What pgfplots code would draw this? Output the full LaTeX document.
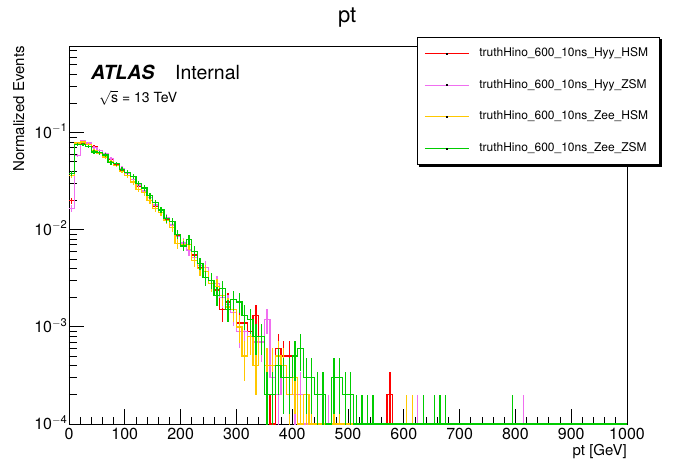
\documentclass[border=0pt]{standalone}
\usepackage{pgfplots}
\usepackage{pgfplotstable}
\pgfplotsset{compat=1.18}
\usepackage{fontspec}
\setmainfont{TeX Gyre Heros}
\usetikzlibrary{backgrounds}
\definecolor{rred}{RGB}{255,0,0}
\definecolor{rmag}{RGB}{240,110,240}
\definecolor{ryel}{RGB}{255,200,0}
\definecolor{rgrn}{RGB}{0,204,0}

\pgfplotstableread{
x y f
0 0.020 1
10 0.058 1
20 0.078 1
30 0.076 1
40 0.072 1
50 0.066 1
60 0.060 1
70 0.053 1
80 0.047 1
90 0.041 1
100 0.036 1
110 0.031 1
120 0.028 1
130 0.024 1
140 0.020 1
150 0.0175 1
160 0.0150 1
170 0.0128 1
180 0.0112 1
190 0.0088 1
200 0.0074 1
210 0.0071 1
220 0.0055 1
230 0.0041 1
240 0.0037 1
250 0.0030 1
260 0.0024 1
270 0.0015 1
280 0.0018 1
290 0.0014 1
300 0.0011 1
310 0.0011 1
320 0.0009 1
330 0.0013 1
340 0.0007 1
350 0.0002 1
360 0.0001 1
370 0.0006 1
380 0.0005 1
390 0.0005 1
400 0.0002 1
410 0.0001 1
420 0.0001 0
430 0.0001 1
440 0.0001 0
450 0.0001 1
460 0.0001 0
480 0.0001 1
490 0.0001 0
530 0.0001 1
540 0.0001 0
570 0.0002 1
580 0.0001 0
1000 0.0001 0
}\hyyhsm

\pgfplotstableread{
x y f
0 0.0165 1
10 0.058 1
20 0.082 1
30 0.078 1
40 0.070 1
50 0.066 1
60 0.061 1
70 0.054 1
80 0.048 1
90 0.043 1
100 0.038 1
110 0.033 1
120 0.029 1
130 0.025 1
140 0.0215 1
150 0.0180 1
160 0.0160 1
170 0.0133 1
180 0.0112 1
190 0.0085 1
200 0.0073 1
210 0.0062 1
220 0.0052 1
230 0.0043 1
240 0.0041 1
250 0.0030 1
260 0.0028 1
270 0.0020 1
280 0.0017 1
290 0.0014 1
300 0.0009 1
310 0.0009 1
320 0.0008 1
330 0.0007 1
340 0.0007 1
350 0.0012 1
360 0.0003 1
370 0.0002 1
380 0.0004 1
390 0.0003 1
400 0.0002 1
410 0.0002 1
420 0.0001 1
430 0.0001 0
440 0.0001 1
450 0.0001 0
460 0.0001 1
470 0.0001 1
480 0.0001 0
500 0.0001 1
510 0.0001 0
620 0.0001 1
630 0.0001 0
810 0.0001 1
820 0.0001 0
1000 0.0001 0
}\hyyzsm

\pgfplotstableread{
x y f
0 0.036 1
10 0.078 1
20 0.080 1
30 0.075 1
40 0.066 1
50 0.061 1
60 0.056 1
70 0.050 1
80 0.046 1
90 0.040 1
100 0.036 1
110 0.031 1
120 0.026 1
130 0.024 1
140 0.020 1
150 0.0165 1
160 0.0150 1
170 0.0125 1
180 0.0105 1
190 0.0072 1
200 0.0071 1
210 0.0070 1
220 0.0048 1
230 0.0040 1
240 0.0037 1
250 0.0028 1
260 0.0026 1
270 0.0021 1
280 0.0016 1
290 0.0015 1
300 0.0010 1
310 0.0005 1
320 0.0008 1
330 0.0004 1
340 0.0008 1
350 0.0004 1
360 0.0004 1
370 0.0005 1
380 0.0004 1
390 0.0002 1
400 0.0003 1
410 0.0001 1
420 0.0002 1
430 0.0001 1
440 0.0001 0
450 0.0001 1
460 0.0001 0
470 0.0001 1
480 0.0001 1
490 0.0001 0
600 0.0001 1
610 0.0001 1
620 0.0001 0
1000 0.0001 0
}\zeehsm

\pgfplotstableread{
x y f
0 0.038 1
10 0.075 1
20 0.075 1
30 0.072 1
40 0.063 1
50 0.062 1
60 0.059 1
70 0.049 1
80 0.048 1
90 0.042 1
100 0.039 1
110 0.0355 1
120 0.030 1
130 0.027 1
140 0.0224 1
150 0.019 1
160 0.016 1
170 0.013 1
180 0.0122 1
190 0.0089 1
200 0.0068 1
210 0.0079 1
220 0.0060 1
230 0.0045 1
240 0.0032 1
250 0.0030 1
260 0.0021 1
270 0.0025 1
280 0.0015 1
290 0.0019 1
300 0.0018 1
310 0.0013 1
320 0.0012 1
330 0.0008 1
340 0.0008 1
350 0.0002 1
360 0.0002 1
370 0.0004 1
380 0.0003 1
390 0.0003 1
400 0.0005 1
410 0.0006 1
420 0.0003 1
430 0.0003 1
440 0.0002 1
450 0.0002 1
460 0.0001 0
470 0.0003 1
480 0.0003 1
490 0.0002 1
500 0.0002 1
510 0.0001 1
520 0.0001 1
530 0.0001 1
540 0.0001 1
550 0.0001 0
630 0.0001 1
640 0.0001 0
650 0.0001 1
660 0.0001 1
670 0.0001 1
680 0.0001 0
790 0.0001 1
800 0.0001 0
1000 0.0001 0
}\zeezsm

\pgfplotsset{
  rhist/.style={const plot mark left, no marks, line width=1.3pt, color=#1, forget plot,
    error bars/.cd, y dir=both, y explicit, error mark=none,
    error bar style={line width=1.3pt, color=#1, xshift=2.79pt}},
  rleg/.style={legend image code/.code={\path (0pt,-3pt) (50pt,3pt);
      \draw[draw=#1, line width=1pt] (0pt,0pt) -- (44pt,0pt);
      \fill[black] (21.7pt,-0.5pt) rectangle (22.3pt,0.5pt);}},
}

\begin{document}
\begin{tikzpicture}
\useasboundingbox (0pt,0pt) rectangle (696pt,472pt);
\begin{axis}[
  at={(69pt,48pt)}, anchor=south west,
  scale only axis, width=558pt, height=378pt,
  xmin=0, xmax=1000, ymin=1e-4, ymax=0.78, ymode=log,
  xtick={0,100,...,1000}, minor x tick num=4,
  ytick={1e-4,1e-3,1e-2,1e-1},
  yticklabels={10\textsuperscript{$-$4},10\textsuperscript{$-$3},10\textsuperscript{$-$2},10\textsuperscript{$-$1}},
  minor ytick={2e-4,3e-4,4e-4,5e-4,6e-4,7e-4,8e-4,9e-4,2e-3,3e-3,4e-3,5e-3,6e-3,7e-3,8e-3,9e-3,2e-2,3e-2,4e-2,5e-2,6e-2,7e-2,8e-2,9e-2,0.2,0.3,0.4,0.5,0.6,0.7},
  tick align=inside, xtick pos=bottom, ytick pos=left,
  major tick length=15pt, minor tick length=7.5pt,
  tick style={line width=0.8pt, black},
  axis line style={line width=0.8pt},
  /pgf/number format/assume math mode=true,
  /pgf/number format/set thousands separator={},
  tick label style={font=\fontsize{16}{18}\selectfont},
  yticklabel style={anchor=base east, inner xsep=1.5pt, yshift=-5.5pt},
  xticklabel style={inner ysep=4pt},
  xlabel={pt [GeV]},
  xlabel style={at={(axis description cs:1,0)}, anchor=base east, inner sep=0pt, yshift=-31pt, font=\fontsize{15}{17}\selectfont},
  ylabel={Normalized Events},
  ylabel style={at={(axis description cs:-0.0806,1)}, anchor=base east, inner sep=0pt, font=\fontsize{15}{17}\selectfont},
  legend cell align=left,
  legend style={name=leg, at={(axis description cs:0.6237,1.0238)}, anchor=north west,
    draw=black, line width=0.8pt, fill=white,
    font=\fontsize{12}{14}\selectfont,
    inner xsep=7pt, inner ysep=10pt, row sep=19.7pt,
    nodes={inner xsep=4pt, inner ysep=0pt, text height=9pt, text depth=3pt}},
]
\addlegendimage{rleg=rred}
\addlegendentry{truthHino\_600\_10ns\_Hyy\_HSM}
\addlegendimage{rleg=rmag}
\addlegendentry{truthHino\_600\_10ns\_Hyy\_ZSM}
\addlegendimage{rleg=ryel}
\addlegendentry{truthHino\_600\_10ns\_Zee\_HSM}
\addlegendimage{rleg=rgrn}
\addlegendentry{truthHino\_600\_10ns\_Zee\_ZSM}
\addplot[rhist=rred] table[x=x, y=y,
  y error plus expr={\thisrow{f}*sqrt(\thisrow{y}*0.0001)},
  y error minus expr={\thisrow{f}*min(sqrt(\thisrow{y}*0.0001),0.999*\thisrow{y})}] {\hyyhsm};
\addplot[rhist=rmag] table[x=x, y=y,
  y error plus expr={\thisrow{f}*sqrt(\thisrow{y}*0.0001)},
  y error minus expr={\thisrow{f}*min(sqrt(\thisrow{y}*0.0001),0.999*\thisrow{y})}] {\hyyzsm};
\addplot[rhist=ryel] table[x=x, y=y,
  y error plus expr={\thisrow{f}*sqrt(\thisrow{y}*0.0001)},
  y error minus expr={\thisrow{f}*min(sqrt(\thisrow{y}*0.0001),0.999*\thisrow{y})}] {\zeehsm};
\addplot[rhist=rgrn] table[x=x, y=y,
  y error plus expr={\thisrow{f}*sqrt(\thisrow{y}*0.0001)},
  y error minus expr={\thisrow{f}*min(sqrt(\thisrow{y}*0.0001),0.999*\thisrow{y})}] {\zeezsm};
\end{axis}
\begin{scope}[on background layer]
\fill[black] ([xshift=2.2pt,yshift=-2.2pt]leg.south west) rectangle ([xshift=2.2pt,yshift=-2.2pt]leg.north east);
\end{scope}
\node[anchor=base, inner sep=0pt, font=\fontsize{22}{26}\selectfont] at (347.2pt,449.3pt) {pt};
\node[anchor=base west, inner sep=0pt, font=\fontsize{19.5}{22}\selectfont\bfseries\itshape] at (91pt,392pt) {ATLAS};
\node[anchor=base west, inner sep=0pt, font=\fontsize{19.5}{22}\selectfont] at (175pt,392pt) {Internal};
\node[anchor=base west, inner sep=0pt, font=\fontsize{14}{16}\selectfont] at (99pt,369.5pt) {$\sqrt{\mbox{s}}$ = 13 TeV};
\end{tikzpicture}
\end{document}
